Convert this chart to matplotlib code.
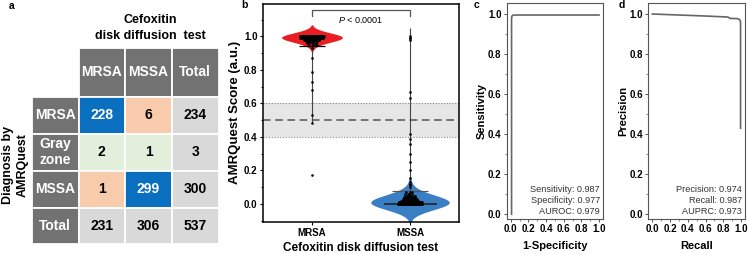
import numpy as np
import matplotlib
matplotlib.use("Agg")
import matplotlib.pyplot as plt
from matplotlib.patches import Rectangle
from matplotlib.ticker import MultipleLocator

plt.rcParams['font.family'] = ['Liberation Sans', 'DejaVu Sans']
plt.rcParams['mathtext.fontset'] = 'custom'
plt.rcParams['mathtext.it'] = 'Liberation Sans:italic'
plt.rcParams['mathtext.rm'] = 'Liberation Sans'

# ---------------- data ----------------
# panel a: confusion table
col_labels = ['MRSA', 'MSSA', 'Total']
row_labels = ['MRSA', 'Gray\nzone', 'MSSA', 'Total']
table_counts = [[228, 6, 234],
                [2, 1, 3],
                [1, 299, 300],
                [231, 306, 537]]

# panel b: AMRQuest scores (value levels and how many isolates sit at each)
mrsa_scores = [1.00, 0.99, 0.98, 0.97, 0.96, 0.95, 0.93, 0.87, 0.79, 0.73, 0.68, 0.53, 0.48, 0.17]
mrsa_counts = [118, 59, 25, 12, 5, 4, 1, 1, 1, 1, 1, 1, 1, 1]
mssa_scores = [1.00, 0.99, 0.98, 0.67, 0.63, 0.42, 0.39, 0.36, 0.30, 0.25, 0.20, 0.155, 0.13,
               0.12, 0.11, 0.10, 0.07, 0.06, 0.05, 0.04, 0.03, 0.02, 0.01, 0.00]
mssa_counts = [1, 2, 1, 1, 1, 1, 1, 1, 1, 1, 1, 1, 1,
               1, 1, 1, 3, 4, 7, 10, 20, 35, 60, 150]
mrsa_whisker = [0.48, 1.00]
mrsa_cap = 0.94
mssa_whisker = [0.0, 1.05]
mssa_median = 0.0
mssa_cap = 0.075
p_text = '$P$ < 0.0001'

# panel c: ROC
roc_fpr = [0.010, 0.010, 0.013, 0.020, 0.035, 1.000]
roc_tpr = [0.000, 0.975, 0.988, 0.993, 0.995, 0.995]
roc_text = ['Sensitivity: 0.987', 'Specificity: 0.977', 'AUROC: 0.979']

# panel d: PR
pr_recall = [0.000, 0.300, 0.600, 0.850, 0.880, 0.960, 0.985, 0.995, 0.995]
pr_precision = [1.000, 0.995, 0.990, 0.985, 0.978, 0.977, 0.972, 0.960, 0.430]
pr_text = ['Precision: 0.974', 'Recall: 0.987', 'AUPRC: 0.973']

W, H = 750, 254
fig = plt.figure(figsize=(W / 100, H / 100), dpi=100)


def px_axes(l, t, r, b):
    return fig.add_axes([l / W, 1 - b / H, (r - l) / W, (b - t) / H])


def kde(data, coords, bw):
    d = np.asarray(data)[None, :]
    c = np.asarray(coords)[:, None]
    v = np.exp(-0.5 * ((c - d) / bw) ** 2).sum(axis=1)
    v[v < 0.02 * v.max()] = 0.0
    return v


def bold_ticks(a, size):
    a.tick_params(labelsize=size)
    for t in a.get_xticklabels() + a.get_yticklabels():
        t.set_fontweight('bold')


# ---------------- panel a ----------------
ta = px_axes(31.7, 48, 218.5, 243.5)
ta.set_xlim(31.7, 218.5)
ta.set_ylim(243.5, 48)
ta.axis('off')
col_edges = [31.7, 78.5, 125, 172, 218.5]
row_edges = [48, 96.5, 133.5, 170.5, 207.5, 243.5]
dark = '#727272'
blue = '#0b6fc0'
peach = '#f8cbad'
green = '#e2efda'
light = '#d9d9d9'
cell_colors = [[blue, peach, light],
               [green, green, light],
               [peach, blue, light],
               [light, light, light]]


def cell(x0, x1, y0, y1, fc, txt, tc, fs=10):
    ta.add_patch(Rectangle((x0, y0), x1 - x0, y1 - y0, facecolor=fc,
                           edgecolor='white', linewidth=1.3))
    ta.text((x0 + x1) / 2, (y0 + y1) / 2, txt, ha='center', va='center',
            color=tc, fontsize=fs, fontweight='bold', linespacing=1.2)


for j, lab in enumerate(col_labels):
    cell(col_edges[j + 1], col_edges[j + 2], row_edges[0], row_edges[1], dark, lab, 'white')
for i, lab in enumerate(row_labels):
    cell(col_edges[0], col_edges[1], row_edges[i + 1], row_edges[i + 2], dark, lab, 'white')
    for j in range(3):
        fc = cell_colors[i][j]
        tc = 'white' if fc == blue else 'black'
        cell(col_edges[j + 1], col_edges[j + 2], row_edges[i + 1], row_edges[i + 2],
             fc, str(table_counts[i][j]), tc)

fig.text(150 / W, 1 - 28 / H, 'Cefoxitin\ndisk diffusion  test', ha='center', va='center',
         fontsize=9, fontweight='bold', linespacing=1.35)
fig.text(15 / W, 1 - 165 / H, 'Diagnosis by\nAMRQuest', ha='center', va='center',
         rotation=90, fontsize=9, fontweight='bold', linespacing=1.3)

# ---------------- panel b ----------------
ax = px_axes(263, 3.5, 459, 222)
ax.set_xlim(0.5, 2.5)
ax.set_ylim(-0.108, 1.196)

ax.axhspan(0.4, 0.6, color='#e6e6e6', zorder=0, lw=0)
ax.axhline(0.4, color='#888888', ls=(0, (1, 1.5)), lw=0.8, zorder=1)
ax.axhline(0.6, color='#888888', ls=(0, (1, 1.5)), lw=0.8, zorder=1)
ax.axhline(0.5, color='#555555', ls=(0, (5, 3)), lw=1.1, zorder=1)

mrsa = np.repeat(mrsa_scores, mrsa_counts)
mssa = np.repeat(mssa_scores, mssa_counts)
stats = []
for data, bw in [(mrsa, 0.026), (mssa, 0.042)]:
    coords = np.linspace(data.min() - 3 * bw, data.max() + 3 * bw, 800)
    stats.append(dict(coords=coords, vals=kde(data, coords, bw), mean=data.mean(),
                      median=np.median(data), min=data.min(), max=data.max(), quantiles=[]))
parts = ax.violin(stats, positions=[1, 2], widths=[0.62, 0.80], showmeans=False,
                  showextrema=False, showmedians=False)
for body, col in zip(parts['bodies'], ['#e91d22', '#3a7ec4']):
    body.set_facecolor(col)
    body.set_edgecolor(col)
    body.set_linewidth(0)
    body.set_alpha(1)
    body.set_zorder(2)

ax.vlines(1, mrsa_whisker[0], mrsa_whisker[1], color='#444444', lw=0.8, zorder=3)
ax.vlines(2, mssa_whisker[0], mssa_whisker[1], color='#444444', lw=0.8, zorder=3)
ax.hlines(mrsa_cap, 0.87, 1.13, color='black', lw=0.9, zorder=4)
ax.hlines(mssa_median, 1.73, 2.28, color='#222222', lw=1.2, zorder=4)
ax.hlines(mssa_cap, 1.82, 2.18, color='#555555', lw=0.8, zorder=4)

for pos, levels, counts, spread in [(1, mrsa_scores, mrsa_counts, 0.12), (2, mssa_scores, mssa_counts, 0.12)]:
    xs, ys = [], []
    for v, n in zip(levels, counts):
        if n > 2:
            k = np.arange(n)
            off = ((k * 0.618034 + v * 7.3) % 1 - 0.5) * 2 * spread * min(1.0, 0.4 + n / 100)
        else:
            off = np.zeros(n)
        xs.extend(pos + off)
        ys.extend([v] * n)
    ax.scatter(xs, ys, s=3.5, color='black', lw=0, zorder=5)

ax.plot([1, 1, 2, 2], [1.12, 1.16, 1.16, 1.12], color='#555555', lw=0.9)
ax.text(1.5, 1.10, p_text, ha='center', va='center', fontsize=6.5)

ax.set_xticks([1, 2])
ax.set_xticklabels(['MRSA', 'MSSA'])
ax.set_yticks([0.0, 0.2, 0.4, 0.6, 0.8, 1.0])
ax.set_yticklabels(['0.0', '0.2', '0.4', '0.6', '0.8', '1.0'])
bold_ticks(ax, 7)
ax.yaxis.set_minor_locator(MultipleLocator(0.1))
ax.tick_params(axis='both', which='major', length=2.5, width=0.8, pad=1.5)
ax.tick_params(axis='y', which='minor', length=1.5, width=0.6)
for sp in ax.spines.values():
    sp.set_linewidth(1.1)
ax.set_xlabel('Cefoxitin disk diffusion test', fontsize=8.5, fontweight='bold', labelpad=3)
ax.set_ylabel('AMRQuest Score (a.u.)', fontsize=9.5, fontweight='bold', labelpad=2)

# ---------------- panels c, d ----------------
def curve_panel(rect, x, y, texts, xlabel, ylabel):
    a = px_axes(*rect)
    a.plot(x, y, color='#666666', lw=1.2)
    a.set_xlim(-0.045, 1.045)
    a.set_ylim(-0.025, 1.055)
    ticks = np.arange(0, 1.01, 0.2)
    a.set_xticks(ticks)
    a.set_xticklabels(['%.1f' % v for v in ticks])
    a.set_yticks(ticks)
    a.set_yticklabels(['%.1f' % v for v in ticks])
    bold_ticks(a, 7)
    a.xaxis.set_minor_locator(MultipleLocator(0.1))
    a.yaxis.set_minor_locator(MultipleLocator(0.1))
    a.tick_params(which='major', length=2.2, width=0.7, color='#555555', pad=1.5)
    a.tick_params(which='minor', length=1.3, width=0.5, color='#555555')
    for sp in a.spines.values():
        sp.set_linewidth(0.8)
        sp.set_color('#555555')
    for k, t in enumerate(texts):
        a.text(0.97, 0.14 - k * 0.053, t, transform=a.transAxes, ha='right', va='center',
               fontsize=6.6, color='#333333')
    a.set_xlabel(xlabel, fontsize=8, fontweight='bold', labelpad=5)
    a.set_ylabel(ylabel, fontsize=8, fontweight='bold', labelpad=1)
    return a


curve_panel((506.7, 3, 603, 219.3), roc_fpr, roc_tpr, roc_text, '1-Specificity', 'Sensitivity')
curve_panel((648.3, 3, 745, 219.3), pr_recall, pr_precision, pr_text, 'Recall', 'Precision')

for lab, x, y in [('a', 12, 6), ('b', 244, 5), ('c', 477, 5), ('d', 622, 5)]:
    fig.text(x / W, 1 - y / H, lab, ha='center', va='center', fontsize=7.5, fontweight='bold')

fig.savefig('out.png', dpi=100)
